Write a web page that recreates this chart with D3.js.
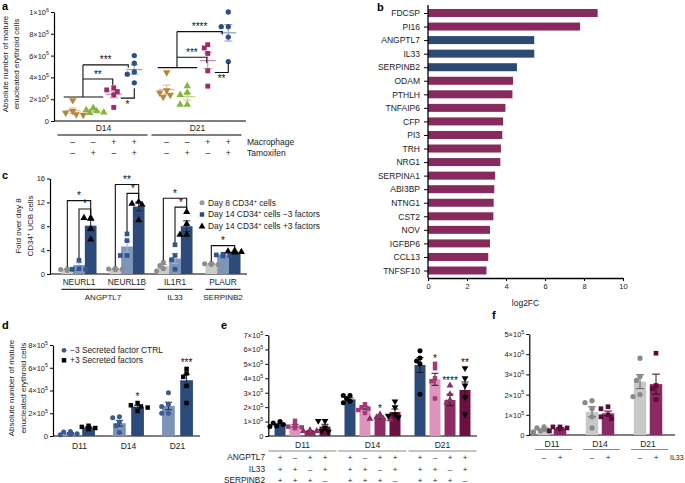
<!DOCTYPE html>
<html><head><meta charset="utf-8">
<script src="https://cdn.jsdelivr.net/npm/d3@7"></script>
<style>body{margin:0;background:#fff}</style>
</head><body><svg id="chart" width="685" height="483"></svg>
<script>
// ================= DATA =================
// Panel a (values in units of 10^5 cells)
const aDays = ["D14", "D21"];
const aMacrophage = ["–", "–", "+", "+"];
const aTamoxifen = ["–", "+", "–", "+"];
const aD14Points = [[1.9,0.9,0.75,0.6,0.55],[1.2,1.0,0.9,0.8,0.75],[3.05,2.85,2.7,2.4,1.25],[6.0,5.3,4.5,4.3,3.5]];
const aD21Points = [[4.45,2.8,2.6,2.4,2.2],[3.2,2.6,2.4,1.5,1.5],[7.0,6.7,6.2,4.6,3.2],[10.0,8.65,8.65,7.7,5.45]];
const aTicks = [0,2,4,6,8,10];
const aBaseLevel = [2.2, 4.9];
const aSig3Level = [3.85, 5.85];
const aSig3Label = ["**", "***"];
const aSig4Level = [5.15, 8.2];
const aSig4Label = ["***", "****"];
const aSig34Level = [2.1, 4.45];
const aSig34Label = ["*", "**"];

// Panel b
const bGenes = ["FDCSP","PI16","ANGPTL7","IL33","SERPINB2","ODAM","PTHLH","TNFAIP6","CFP","PI3","TRH","NRG1","SERPINA1","ABI3BP","NTNG1","CST2","NOV","IGFBP6","CCL13","TNFSF10"];
const bLog2FC = [8.7,7.8,5.45,5.45,4.56,4.36,4.33,3.97,3.85,3.81,3.74,3.71,3.44,3.40,3.37,3.35,3.18,3.18,3.09,3.0];
const bSelected = ["ANGPTL7","IL33","SERPINB2"];
const bTicks = [0,2,4,6,8,10];

// Panel c (fold over day 8)
const cGenes = ["NEURL1","NEURL1B","IL1R1","PLAUR"];
const cLigands = ["ANGPTL7","IL33","SERPINB2"];
const cLigandGenes = [["NEURL1","NEURL1B"],["IL1R1"],["PLAUR"]];
const cSeries = ["Day 8 CD34⁺ cells","Day 14 CD34⁺ cells −3 factors","Day 14 CD34⁺ cells +3 factors"];
const cDay8Mean = [0.8,0.85,1.3,1.7];
const cMinusMean = [1.5,4.6,2.6,3.2];
const cPlusMean = [8.1,11.3,8.0,3.6];
const cDay8Points = [[0.85,0.75,0.65,0.6],[0.95,0.85,0.8,0.7],[1.95,1.4,0.9,0.5],[1.8,1.7,1.6,1.6]];
const cMinusPoints = [[2.3,0.9,0.8,0.8],[6.7,5.6,3.1,3.1],[4.9,3.1,2.4,0.8],[3.3,3.2,3.1,3.0]];
const cPlusPoints = [[9.4,9.4,7.6,5.8],[12.1,11.8,11.6,9.0],[10.4,8.4,6.6,6.6],[3.9,3.8,3.7,3.6]];
const cTicks = [0,4,8,12,16];
const cSigGene = ["NEURL1","NEURL1","NEURL1B","NEURL1B","IL1R1","IL1R1","PLAUR"];
const cSigFrom = [0,1,0,1,0,1,0];
const cSigLevel = [12.3,10.9,15.0,13.5,12.7,11.2,4.75];
const cSigLabel = ["*","*","**","*","*","*","*"];

// Panel d (×10^5)
const dDays = ["D11","D14","D21"];
const dSeries = ["−3 Secreted factor CTRL","+3 Secreted factors"];
const dCtrlMean = [0.24,1.12,2.64];
const dFactMean = [0.76,2.58,4.9];
const dCtrlPoints = [[0.4,0.35,0.2,0.15,0.1],[1.7,1.6,1.2,0.9,0.3],[3.8,2.8,2.6,2.0,2.0]];
const dFactPoints = [[0.9,0.8,0.7,0.7,0.6],[2.9,2.7,2.6,2.5,2.2],[5.9,5.5,5.2,4.4,2.9]];
const dSig = ["","*","***"];
const dTicks = [0,2,4,6,8];

// Panel e (×10^5)
const eDays = ["D11","D14","D21"];
const eRowNames = ["ANGPTL7","IL33","SERPINB2"];
const eANGPTL7 = ["+","–","+","+"];
const eIL33 = ["+","+","–","+"];
const eSERPINB2 = ["+","+","+","–"];
const eMeans = [[0.81,0.72,0.35,0.65],[2.54,1.96,1.27,1.66],[4.92,3.93,2.5,3.19]];
const eD11Points = [[1.0,0.9,0.8,0.7,0.65],[1.05,0.75,0.65,0.6,0.55],[0.4,0.35,0.35,0.3,0.3],[1.05,1.05,0.6,0.35,0.3]];
const eD14Points = [[2.8,2.8,2.6,2.4,2.3],[2.2,2.0,1.9,1.8,1.6],[1.5,1.3,1.2,1.2,1.15],[2.4,2.0,1.5,1.4,1.3]];
const eD21Points = [[5.9,5.4,5.2,5.0,2.9],[5.0,4.7,4.0,3.8,2.6],[3.5,2.9,2.5,2.3,1.1],[4.7,4.0,3.5,2.7,1.5]];
const eSig = [["","","",""],["","","*",""],["","*","****","**"]];
const eTicks = [0,1,2,3,4,5,6,7];

// Panel f (×10^5)
const fDays = ["D11","D14","D21"];
const fIL33 = ["–","+"];
const fCtrlMean = [0.25,1.15,2.64];
const fIL33Mean = [0.33,1.07,2.52];
const fCtrlPoints = [[0.4,0.35,0.25,0.2,0.15],[1.7,1.6,1.3,0.9,0.35],[3.8,2.9,2.7,2.0,1.9]];
const fIL33Points = [[0.4,0.4,0.35,0.3,0.2],[1.4,1.3,1.0,0.9,0.8],[4.05,2.45,2.3,1.75]];
const fTicks = [0,1,2,3,4,5];

// ================= HELPERS =================
const FONT = "'Liberation Sans', Arial, Helvetica, sans-serif";
const TICK_FS = 7.5, LAB_FS = 8.3, STAR_FS = 10;
const svg = d3.select("#chart").attr("font-family", FONT);
svg.append("rect").attr("width", 685).attr("height", 483).attr("fill", "#fff");

function sciFmt(unitExp) {
  return function(sel) {
    sel.each(function(d) {
      const t = d3.select(this); t.text(null);
      if (d === 0) { t.text("0"); return; }
      const v = d * Math.pow(10, unitExp);
      const e = Math.floor(Math.log10(v) + 1e-9);
      const m = Math.round(v / Math.pow(10, e));
      t.append("tspan").text(m + "×10");
      t.append("tspan").attr("dy", -3.2).attr("font-size", 5.3).text(e);
    });
  };
}
function yAxis(x, scale, ticks, fmt) {
  const g = svg.append("g").attr("transform", `translate(${x},0)`)
    .call(d3.axisLeft(scale).tickValues(ticks).tickSize(3).tickPadding(2).tickSizeOuter(0));
  g.attr("font-family", FONT).attr("font-size", TICK_FS);
  g.select(".domain").attr("stroke-width", 1.2);
  g.selectAll(".tick text").attr("fill", "#222");
  if (fmt) g.selectAll(".tick text").call(fmt);
  return g;
}
function hline(x1, x2, y, color, w) {
  svg.append("line").attr("x1", x1).attr("x2", x2).attr("y1", y).attr("y2", y)
    .attr("stroke", color || "#000").attr("stroke-width", w || 1.2);
}
function txt(x, y, s, opts = {}) {
  const fs = opts.fs || LAB_FS;
  const t = svg.append("text").attr("x", x).attr("y", y)
    .attr("font-size", fs).attr("fill", opts.fill || "#222")
    .attr("text-anchor", opts.anchor || "start");
  if (opts.bold) t.attr("font-weight", "bold");
  if (opts.rotate) t.attr("transform", `rotate(-90,${x},${y})`);
  const parts = s.split("⁺");
  parts.forEach((p, i) => {
    if (i > 0) {
      t.append("tspan").attr("dy", -3).attr("font-size", fs * 0.65).text("+");
      t.append("tspan").attr("dy", 3).text(p);
    } else t.append("tspan").text(p);
  });
  return t;
}
function star(x, y, s) { return txt(x, y, s, { fs: STAR_FS, anchor: "middle", fill: "#111" }); }
function poly(pts, color) {
  svg.append("path").attr("d", d3.line()(pts)).attr("fill", "none")
    .attr("stroke", color || "#111").attr("stroke-width", 1.1);
}
const symTypes = { circle: d3.symbolCircle, square: d3.symbolSquare, tri: d3.symbolTriangle, down: d3.symbolTriangle };
function swarm(vals, y, minD) {
  const placed = [];
  return vals.map(v => {
    const py = y(v);
    for (const k of [0, -1, 1, -2, 2, -3, 3]) {
      const dx = k * minD * 0.8;
      if (placed.every(p => Math.hypot(p.x - dx, p.y - py) >= minD)) { placed.push({ x: dx, y: py }); return { dx, py }; }
    }
    placed.push({ x: 0, y: py }); return { dx: 0, py };
  });
}
function points(cx, vals, y, shape, color, size, minD) {
  swarm(vals, y, minD).forEach(p => {
    svg.append("path").attr("d", d3.symbol().type(symTypes[shape]).size(size)())
      .attr("transform", `translate(${cx + p.dx},${p.py})` + (shape === "down" ? " rotate(180)" : ""))
      .attr("fill", color);
  });
}
function sem(vals) { return d3.deviation(vals) / Math.sqrt(vals.length); }
function errBar(cx, mean, e, y, color, cap, w) {
  svg.append("line").attr("x1", cx).attr("x2", cx).attr("y1", y(mean - e)).attr("y2", y(mean + e))
    .attr("stroke", color).attr("stroke-width", w || 1);
  [mean - e, mean + e].forEach(v => hline(cx - cap, cx + cap, y(v), color, w || 1));
}
function maxTop(vals, mean, y) { return y(Math.max(d3.max(vals), mean + sem(vals))); }

// ================= PANEL LETTERS =================
txt(2, 10, "a", { fs: 11, bold: true, fill: "#000" });
txt(377, 11, "b", { fs: 11, bold: true, fill: "#000" });
txt(2, 179, "c", { fs: 11, bold: true, fill: "#000" });
txt(2, 329, "d", { fs: 11, bold: true, fill: "#000" });
txt(221, 329, "e", { fs: 11, bold: true, fill: "#000" });
txt(492, 319, "f", { fs: 11, bold: true, fill: "#000" });

// ================= PANEL A =================
(function() {
  const x0 = d3.scaleBand().domain(aDays).range([56.5, 244.5]);
  const x1 = d3.scalePoint().domain(d3.range(4)).range([0, x0.bandwidth()]).padding(0.79);
  const y = d3.scaleLinear().domain([0, 10]).range([121, 12]);
  const cols = ["#b5873a", "#86b43c", "#9c2b6a", "#2e4f86"];
  const shapes = ["down", "tri", "square", "circle"];
  yAxis(54, y, aTicks, sciFmt(5));
  hline(54, 246, 121);
  const allPts = [aD14Points, aD21Points];
  aDays.forEach((day, di) => {
    const cx = i => x0(day) + x1(i);
    allPts[di].forEach((vals, i) => {
      const m = d3.mean(vals), e = sem(vals);
      const col = cols[i];
      const g = svg.append("g").attr("opacity", 0.55);
      g.append("line").attr("x1", cx(i) - 8).attr("x2", cx(i) + 8).attr("y1", y(m)).attr("y2", y(m)).attr("stroke", col).attr("stroke-width", 1.2);
      g.append("line").attr("x1", cx(i)).attr("x2", cx(i)).attr("y1", y(m - e)).attr("y2", y(m + e)).attr("stroke", col).attr("stroke-width", 1);
      [m - e, m + e].forEach(v => g.append("line").attr("x1", cx(i) - 4).attr("x2", cx(i) + 4).attr("y1", y(v)).attr("y2", y(v)).attr("stroke", col).attr("stroke-width", 1));
    });
    allPts[di].forEach((vals, i) => points(cx(i), vals, y, shapes[i], cols[i], shapes[i] === "circle" ? 22 : 24, 4.4));
    // brackets
    const mid = (cx(0) + cx(1)) / 2;
    const yb = y(aBaseLevel[di]), y4 = y(aSig4Level[di]), y3 = y(aSig3Level[di]), y34 = y(aSig34Level[di]);
    poly([[cx(0) - 9, yb], [cx(1) + 10, yb]]);
    poly([[mid, yb], [mid, y4]]);
    poly([[mid, y4], [cx(3) - 6, y4], [cx(3) - 6, y4 + 3]]);
    poly([[mid, y3], [cx(2) - 1, y3], [cx(2) - 1, y3 + 6]]);
    poly([[cx(2) + 7, y34], [cx(3), y34], [cx(3), y(aSig34Level[di] + 0.9)]]);
    star((mid + cx(3) - 6) / 2, y4 - 1.5, aSig4Label[di]);
    star((mid + cx(2) - 1) / 2, y3 - 1.5, aSig3Label[di]);
    star((cx(2) + 7 + cx(3)) / 2, y34 + 10, aSig34Label[di]);
    // x labels
    txt(x0(day) + x0.bandwidth() / 2, 131, day, { anchor: "middle", fs: 8.5 });
    hline(x0(day) + 1, x0(day) + x0.bandwidth() - 3, 135, "#000", 1);
    d3.range(4).forEach(i => {
      txt(cx(i), 144.5, aMacrophage[i], { anchor: "middle", fs: 8.5 });
      txt(cx(i), 155.5, aTamoxifen[i], { anchor: "middle", fs: 8.5 });
    });
  });
  txt(247, 144.5, "Macrophage", { fs: 8.5 });
  txt(247, 155.5, "Tamoxifen", { fs: 8.5 });
  txt(8, 64, "Absolute number of mature", { fs: 8, anchor: "middle", rotate: true });
  txt(19, 64, "enucleated erythroid cells", { fs: 8, anchor: "middle", rotate: true });
})();

// ================= PANEL B =================
(function() {
  const y = d3.scalePoint().domain(bGenes).range([13, 270.5]);
  const x = d3.scaleLinear().domain([0, 10]).range([428, 623]);
  svg.append("g").selectAll("rect").data(bGenes).join("rect")
    .attr("x", x(0)).attr("y", d => y(d) - 4).attr("height", 8)
    .attr("width", (d, i) => x(bLog2FC[i]) - x(0))
    .attr("fill", d => bSelected.includes(d) ? "#2c4a72" : "#872b5e");
  const ya = svg.append("g").attr("transform", "translate(428,0)")
    .call(d3.axisLeft(y).tickSize(4).tickPadding(4));
  ya.attr("font-family", FONT).attr("font-size", 8.5);
  ya.select(".domain").remove();
  ya.selectAll(".tick text").attr("fill", "#222");
  svg.append("line").attr("x1", 428).attr("x2", 428).attr("y1", 5).attr("y2", 278).attr("stroke", "#000").attr("stroke-width", 1.3);
  const xa = svg.append("g").attr("transform", "translate(0,278)")
    .call(d3.axisBottom(x).tickValues(bTicks).tickSize(3).tickPadding(3).tickSizeOuter(0));
  xa.attr("font-family", FONT).attr("font-size", TICK_FS);
  xa.select(".domain").attr("stroke-width", 1.3);
  xa.selectAll(".tick text").attr("fill", "#222");
  txt(x(5), 306, "log2FC", { anchor: "middle", fs: 8.5 });
})();

// ================= PANEL C =================
(function() {
  const x0 = d3.scaleBand().domain(cGenes).range([55, 247]).paddingInner(0.27).paddingOuter(0.135);
  const x1 = d3.scaleBand().domain([0, 1, 2]).range([0, x0.bandwidth()]);
  const y = d3.scaleLinear().domain([0, 16]).range([274, 178.5]);
  const barCol = ["#cacaca", "#7e95b8", "#2c4a7a"];
  const ptCol = ["#8d8d8d", "#2f5690", "#000"];
  const errCol = ["#888", "#9fb0cc", "#1a2a45"];
  const shapes = ["circle", "square", "tri"];
  const means = [cDay8Mean, cMinusMean, cPlusMean];
  const pts = [cDay8Points, cMinusPoints, cPlusPoints];
  yAxis(50, y, cTicks);
  hline(50, 247, 274);
  const bx = (gi, s) => x0(cGenes[gi]) + x1(s);
  cGenes.forEach((g, gi) => [0, 1, 2].forEach(s => {
    svg.append("rect").attr("x", bx(gi, s)).attr("width", x1.bandwidth())
      .attr("y", y(means[s][gi])).attr("height", y(0) - y(means[s][gi])).attr("fill", barCol[s]);
  }));
  cGenes.forEach((g, gi) => [0, 1, 2].forEach(s => {
    const cx = bx(gi, s) + x1.bandwidth() / 2;
    errBar(cx, means[s][gi], sem(pts[s][gi]), y, errCol[s], 3.5, 1);
  }));
  cGenes.forEach((g, gi) => [0, 1, 2].forEach(s => {
    const cx = bx(gi, s) + x1.bandwidth() / 2;
    points(cx, pts[s][gi], y, shapes[s], ptCol[s], s === 0 ? 20 : 22, 4.2);
  }));
  // brackets
  cSigGene.forEach((g, k) => {
    const gi = cGenes.indexOf(g), s0 = cSigFrom[k];
    const xl = bx(gi, s0) + x1.bandwidth() / 2, xr = bx(gi, 2) + x1.bandwidth() / 2;
    const yl = y(cSigLevel[k]);
    const topL = maxTop(pts[s0][gi], means[s0][gi], y) - 2;
    const topR = maxTop(pts[2][gi], means[2][gi], y) - 3;
    poly([[xl, topL], [xl, yl], [xr, yl], [xr, topR]]);
    star((xl + xr) / 2, yl - 1.5, cSigLabel[k]);
  });
  cGenes.forEach(g => txt(x0(g) + x0.bandwidth() / 2, 284.8, g, { anchor: "middle", fs: 8.3 }));
  cLigands.forEach((lig, li) => {
    const gs = cLigandGenes[li];
    const a = x0(gs[0]), b = x0(gs[gs.length - 1]) + x0.bandwidth();
    hline(a, b, 289.3, "#000", 1);
    txt((a + b) / 2, 299.8, lig, { anchor: "middle", fs: 8 });
  });
  // legend
  const ly = [202.7, 214.5, 226.5];
  cSeries.forEach((s, i) => {
    svg.append("path").attr("d", d3.symbol().type(symTypes[shapes[i]]).size(20)())
      .attr("transform", `translate(202,${ly[i]})`).attr("fill", i === 0 ? "#9a9a9a" : i === 1 ? "#2c4a7a" : "#000");
    txt(208, ly[i] + 2.8, s, { fs: 8.4 });
  });
  txt(21, 226, "Fold over day 8", { fs: 8, anchor: "middle", rotate: true });
  txt(33, 226, "CD34⁺ UCB cells", { fs: 8, anchor: "middle", rotate: true });
})();

// ================= PANEL D =================
(function() {
  const x0 = d3.scaleBand().domain(dDays).range([55, 202]);
  const x1 = d3.scaleBand().domain([0, 1]).range([0, x0.bandwidth()]).paddingInner(0.3).paddingOuter(0.5);
  const y = d3.scaleLinear().domain([0, 8]).range([436, 345]);
  const barCol = ["#7b92b8", "#2c4a7a"];
  const ptCol = ["#3a5a94", "#000"];
  const shapes = ["circle", "square"];
  const means = [dCtrlMean, dFactMean];
  const pts = [dCtrlPoints, dFactPoints];
  yAxis(53, y, dTicks, sciFmt(5));
  hline(53, 200, 436);
  dDays.forEach((d, di) => [0, 1].forEach(s => {
    svg.append("rect").attr("x", x0(d) + x1(s)).attr("width", x1.bandwidth())
      .attr("y", y(means[s][di])).attr("height", y(0) - y(means[s][di])).attr("fill", barCol[s]);
  }));
  dDays.forEach((d, di) => [0, 1].forEach(s => {
    const cx = x0(d) + x1(s) + x1.bandwidth() / 2;
    errBar(cx, means[s][di], sem(pts[s][di]), y, "#1b2b48", 3.5, 1);
    points(cx, pts[s][di], y, shapes[s], ptCol[s], 20, 4.2);
  }));
  dDays.forEach((d, di) => {
    const cx = x0(d) + x1(1) + x1.bandwidth() / 2;
    if (dSig[di]) star(cx, maxTop(pts[1][di], means[1][di], y) - 3, dSig[di]);
    txt(x0(d) + x0.bandwidth() / 2, 449, d, { anchor: "middle", fs: 8.5 });
  });
  svg.append("path").attr("d", d3.symbol().type(d3.symbolCircle).size(18)()).attr("transform", "translate(64,350.3)").attr("fill", "#3a5a94");
  svg.append("path").attr("d", d3.symbol().type(d3.symbolSquare).size(20)()).attr("transform", "translate(64,360.3)").attr("fill", "#000");
  txt(70, 353.2, dSeries[0], { fs: 8.4 });
  txt(70, 363.2, dSeries[1], { fs: 8.4 });
  txt(14, 388, "Absolute number of mature", { fs: 8, anchor: "middle", rotate: true });
  txt(26, 388, "enucleated erythroid cells", { fs: 8, anchor: "middle", rotate: true });
})();

// ================= PANEL E =================
(function() {
  const x0 = d3.scaleBand().domain(eDays).range([267.5, 477.5]);
  const x1 = d3.scaleBand().domain([0, 1, 2, 3]).range([0, x0.bandwidth()]).paddingInner(0.267).paddingOuter(0.467);
  const y = d3.scaleLinear().domain([0, 7]).range([436, 335]);
  const barCol = ["#2c4a7a", "#dc94bd", "#8e2d64", "#6c1042"];
  const ptCol = ["#000", "#a6387a", "#8e2d64", "#000"];
  const shapes = ["circle", "square", "tri", "down"];
  const pts = [eD11Points, eD14Points, eD21Points];
  yAxis(268.3, y, eTicks, sciFmt(5));
  hline(268, 477, 436);
  eDays.forEach((d, di) => d3.range(4).forEach(s => {
    svg.append("rect").attr("x", x0(d) + x1(s)).attr("width", x1.bandwidth())
      .attr("y", y(eMeans[di][s])).attr("height", y(0) - y(eMeans[di][s])).attr("fill", barCol[s]);
  }));
  eDays.forEach((d, di) => d3.range(4).forEach(s => {
    const cx = x0(d) + x1(s) + x1.bandwidth() / 2;
    errBar(cx, eMeans[di][s], sem(pts[di][s]), y, "#1a1a1a", 3.5, 1);
    points(cx, pts[di][s], y, shapes[s], ptCol[s], 20, 4.2);
    if (eSig[di][s]) star(cx, maxTop(pts[di][s], eMeans[di][s], y) - 2, eSig[di][s]);
  }));
  const rows = [eANGPTL7, eIL33, eSERPINB2];
  const rowY = [459.5, 471.5, 482.5];
  eDays.forEach((d) => {
    txt(x0(d) + x0.bandwidth() / 2, 447.5, d, { anchor: "middle", fs: 8.5 });
    hline(x0(d) + 1, x0(d) + x0.bandwidth() - 1, 451, "#888", 1);
    rows.forEach((r, ri) => d3.range(4).forEach(s => {
      txt(x0(d) + x1(s) + x1.bandwidth() / 2, rowY[ri], r[s], { anchor: "middle", fs: 8 });
    }));
  });
  eRowNames.forEach((n, ri) => txt(265, rowY[ri], n, { anchor: "end", fs: 8.3 }));
})();

// ================= PANEL F =================
(function() {
  const x0 = d3.scaleBand().domain(fDays).range([528, 672]);
  const x1 = d3.scaleBand().domain([0, 1]).range([0, x0.bandwidth()]).paddingInner(0.22).paddingOuter(0.61);
  const y = d3.scaleLinear().domain([0, 5]).range([435, 334]);
  const barCol = ["#c8c8c8", "#8a2a63"];
  const ptCol = ["#8a8a8a", "#5c0a36"];
  const errCol = ["#666", "#3a0a24"];
  const shapes = ["circle", "square"];
  const means = [fCtrlMean, fIL33Mean];
  const pts = [fCtrlPoints, fIL33Points];
  yAxis(529.3, y, fTicks, sciFmt(5));
  hline(529, 675, 435);
  fDays.forEach((d, di) => [0, 1].forEach(s => {
    svg.append("rect").attr("x", x0(d) + x1(s)).attr("width", x1.bandwidth())
      .attr("y", y(means[s][di])).attr("height", y(0) - y(means[s][di])).attr("fill", barCol[s]);
  }));
  fDays.forEach((d, di) => [0, 1].forEach(s => {
    const cx = x0(d) + x1(s) + x1.bandwidth() / 2;
    errBar(cx, means[s][di], sem(pts[s][di]), y, errCol[s], 4, 1);
    points(cx, pts[s][di], y, shapes[s], ptCol[s], 22, 4.4);
  }));
  fDays.forEach((d, di) => {
    txt(x0(d) + x0.bandwidth() / 2, 446.5, d, { anchor: "middle", fs: 8.5 });
    hline(x0(d) + 7, x0(d) + x0.bandwidth() - 4, 449.5, "#888", 1);
    [0, 1].forEach(s => txt(x0(d) + x1(s) + x1.bandwidth() / 2, 459.5, fIL33[s], { anchor: "middle", fs: 8 }));
  });
  txt(670, 459.5, "IL33", { fs: 7 });
})();
</script></body></html>
